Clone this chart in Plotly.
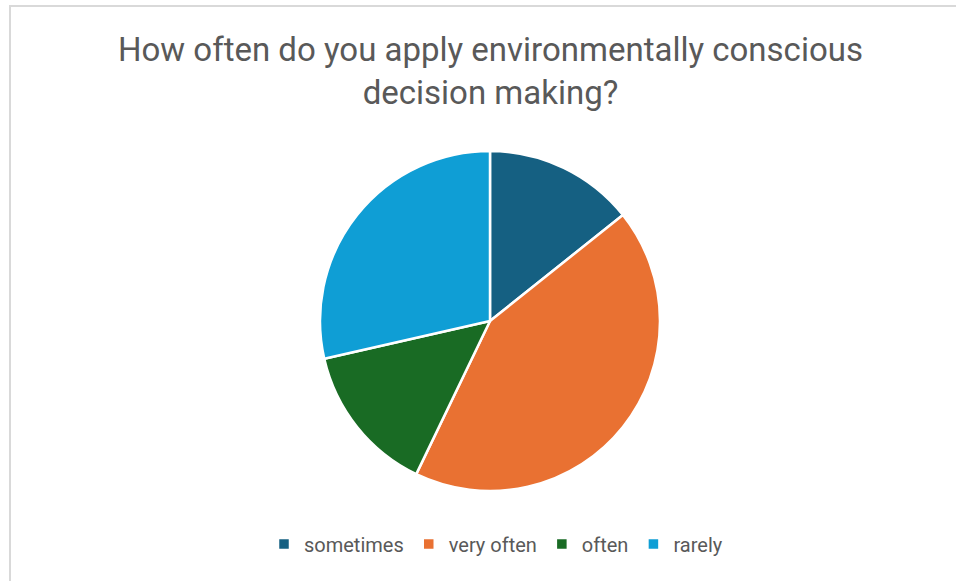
import plotly.graph_objects as go

labels = ["sometimes", "very often", "often", "rarely"]
values = [1, 3, 1, 2]
colors = ["#156082", "#E97132", "#196B24", "#0F9ED5"]
title_text = "How often do you apply environmentally conscious<br>decision making?"

W, H = 956, 581
cx, cy, r = 490, 321, 170

fig = go.Figure(go.Pie(
    labels=labels, values=values, sort=False, direction="clockwise", rotation=0,
    marker=dict(colors=colors, line=dict(color="white", width=2.5)),
    textinfo="none", hoverinfo="label+value+percent",
    domain=dict(x=[(cx - r) / W, (cx + r) / W], y=[1 - (cy + r) / H, 1 - (cy - r) / H]),
))

fig.update_layout(
    width=W, height=H,
    margin=dict(l=0, r=0, t=0, b=0),
    paper_bgcolor="white", plot_bgcolor="white",
    legend=dict(
        orientation="h", x=(cx + 6) / W, xanchor="center", y=1 - 544 / H, yanchor="middle",
        font=dict(family="Roboto, sans-serif", size=20, color="#595959"),
        itemclick=False, itemwidth=30,
    ),
    annotations=[dict(
        text=title_text, xref="paper", yref="paper",
        x=cx / W, xanchor="center", y=1 - 71 / H, yanchor="middle",
        showarrow=False, align="center",
        font=dict(family="Roboto, sans-serif", size=33, color="#595959"),
    )],
    shapes=[dict(
        type="rect", xref="paper", yref="paper",
        x0=10 / W, x1=1.05, y0=-0.05, y1=1 - 6 / H,
        line=dict(color="#d9d9d9", width=2), fillcolor="rgba(0,0,0,0)", layer="below",
    )],
)

fig.write_html("out.html")
